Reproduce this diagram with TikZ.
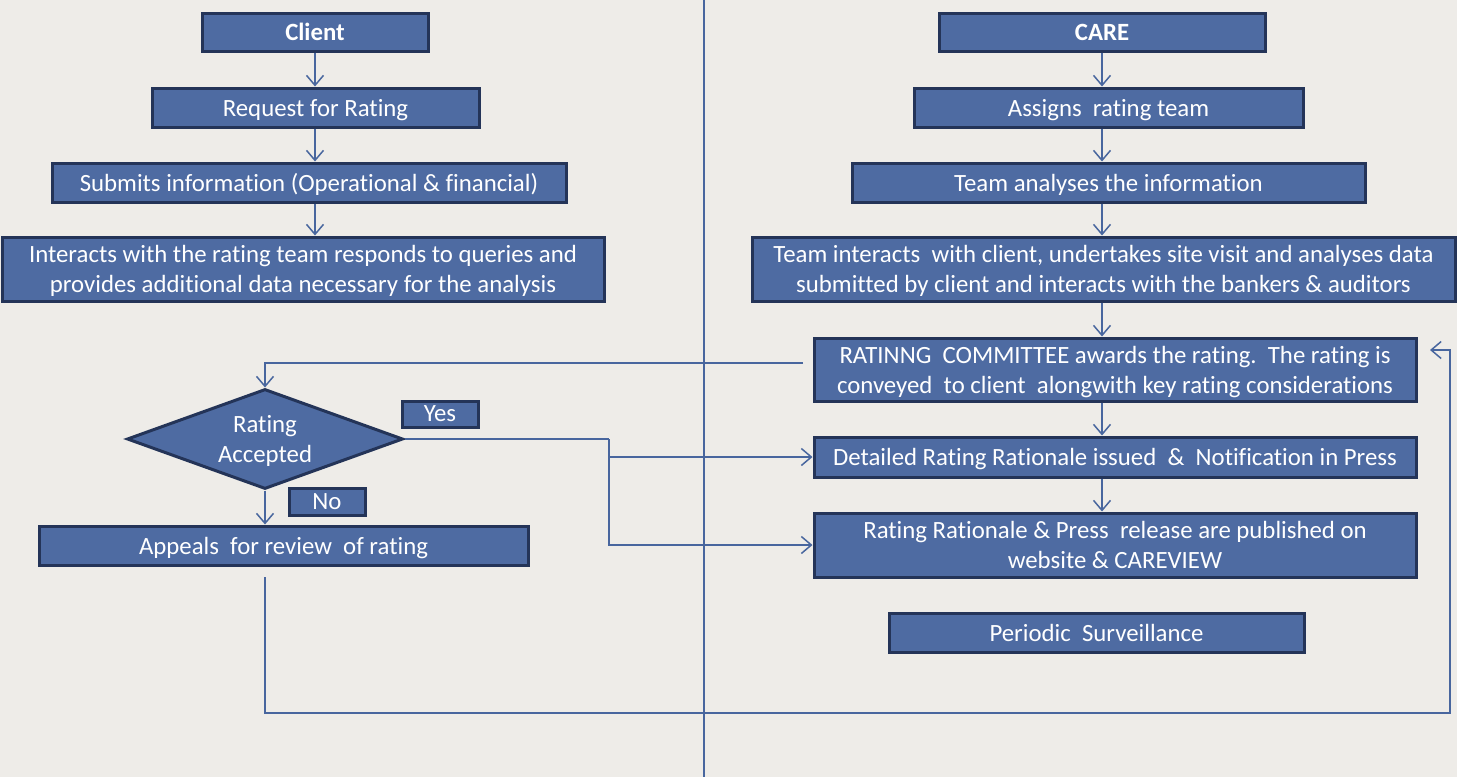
\documentclass[tikz,border=0pt]{standalone}
\usepackage{fontspec}
\setmainfont{Carlito}[Ligatures={NoCommon}]
\usetikzlibrary{arrows.meta,shapes.geometric}
\definecolor{bgc}{RGB}{238,236,232}
\definecolor{boxfill}{RGB}{78,107,162}
\definecolor{boxline}{RGB}{36,52,88}
\definecolor{conn}{RGB}{72,102,158}
\tikzset{
  box/.style={draw=boxline, line width=3pt, fill=boxfill, text=white, inner sep=0pt, align=center,
    text depth=0pt, font=\fontsize{24.8}{30}\selectfont},
  dec/.style={box, shape=diamond, aspect=2.76},
  conline/.style={draw=conn, line width=1.5pt},
  arr/.style={conline, -{Straight Barb[length=10pt,width=17pt,line width=1.5pt]}},
}
\begin{document}
\begin{tikzpicture}[x=1pt,y=-1pt]
\useasboundingbox (0,0) rectangle (1457,777);
\fill[bgc] (0,0) rectangle (1457,777);
% divider
\draw[conline] (704,0) -- (704,777);
% left column
\node[box, minimum width=226, minimum height=38] (client) at (315,32) {\bfseries Client};
\node[box, minimum width=327, minimum height=39] (req) at (315.5,107.5) {Request for Rating};
\node[box, minimum width=514, minimum height=39] (sub) at (309,182.5) {Submits information (Operational \& financial)};
\node[box, minimum width=602, minimum height=64] (inter) at (303,269) {Interacts with the rating team responds to queries and\\provides additional data necessary for the analysis};
\node[dec, minimum width=276, minimum height=100] (dia) at (265,439) {Rating\\Accepted};
\node[box, minimum width=76, minimum height=26] (yes) at (440,414) {Yes};
\node[box, minimum width=76, minimum height=27] (no) at (327,501.5) {No};
\node[box, minimum width=489, minimum height=39] (app) at (283.5,545.5) {Appeals\ \ for review\ \ of rating};
% right column
\node[box, minimum width=326, minimum height=38] (care) at (1102,32) {\bfseries CARE};
\node[box, minimum width=389, minimum height=39] (assign) at (1108.5,107.5) {Assigns\ \ rating team};
\node[box, minimum width=513, minimum height=39] (anal) at (1108.5,182.5) {Team analyses the information};
\node[box, minimum width=703, minimum height=64] (tint) at (1103.5,269) {Team interacts\ \ with client, undertakes site visit and analyses data\\submitted by client and interacts with the bankers \& auditors};
\node[box, minimum width=602, minimum height=63] (comm) at (1115,369.5) {RATINNG\ \ COMMITTEE awards the rating.\ \ The rating is\\conveyed\ \ to client\ \ alongwith key rating considerations};
\node[box, minimum width=602, minimum height=40] (det) at (1115,457) {Detailed Rating Rationale issued\ \ \&\ \ Notification in Press};
\node[box, minimum width=602, minimum height=64] (pub) at (1115,545) {Rating Rationale \& Press\ \ release are published on\\website \& CAREVIEW};
\node[box, minimum width=415, minimum height=39] (per) at (1096.5,632.5) {Periodic\ \ Surveillance};
% connectors
\draw[arr] (client) -- (client.south |- req.north);
\draw[arr] (client.south |- req.south) -- (client.south |- sub.north);
\draw[arr] (client.south |- sub.south) -- (client.south |- inter.north);
\draw[arr] (care) -- (care.south |- assign.north);
\draw[arr] (care.south |- assign.south) -- (care.south |- anal.north);
\draw[arr] (care.south |- anal.south) -- (care.south |- tint.north);
\draw[arr] (care.south |- tint.south) -- (care.south |- comm.north);
\draw[arr] (care.south |- comm.south) -- (care.south |- det.north);
\draw[arr] (care.south |- det.south) -- (care.south |- pub.north);
\coordinate (cs) at (803,363);
\draw[arr] (cs) -| (dia.north);
\coordinate (yj) at (609,439);
\draw[conline] (dia.east) -- (yj);
\draw[arr] (yj) |- (det.west);
\draw[arr] (yj) |- (pub.west);
\draw[arr] (dia.south) -- (dia.south |- app.north);
\coordinate (ls) at (265,577);
\coordinate (le) at (1430,350);
\draw[arr] (ls) -- (265,713) -- (1450,713) -- (1450,350) -- (le);
\end{tikzpicture}
\end{document}
